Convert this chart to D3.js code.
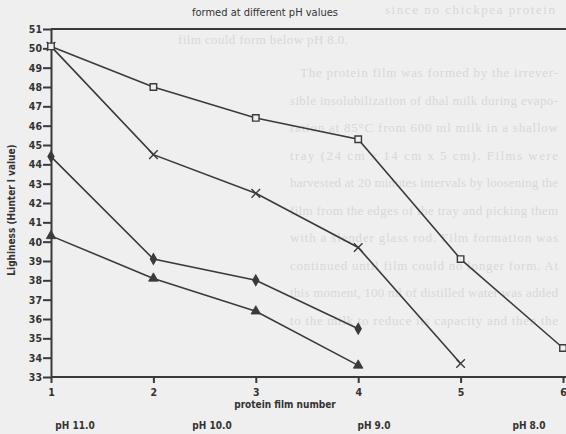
<!doctype html>
<html>
<head>
<meta charset="UTF-8" />
<script src="https://d3js.org/d3.v7.min.js"></script>
<style>
  body { margin: 0; background: #efefef; }
  svg { display: block; }
  .axis path, .axis line { stroke: #3a3a3a; stroke-width: 2; }
  .axis text { font: bold 10.5px "DejaVu Sans Condensed", sans-serif; fill: #333; }
  .lbl { font-family: "DejaVu Sans Condensed", sans-serif; font-weight: bold; fill: #333; }
  .ghost { font: 13px "Liberation Serif", serif; fill: #d8d8d8; }
</style>
</head>
<body>
<svg id="chart" width="566" height="434"></svg>
<script>
// protein film number 1..6
const films = [1, 2, 3, 4, 5, 6];
const yTicks = d3.range(33, 52);

// lightness readings, one list per curve (top to bottom)
const curveA = [50.1, 48.0, 46.4, 45.3, 39.1, 34.5];   // squares
const curveB = [50.1, 44.5, 42.5, 39.7, 33.7];         // crosses
const curveC = [44.4, 39.1, 38.0, 35.5];               // diamonds
const curveD = [40.3, 38.1, 36.4, 33.6];               // triangles

const phLabels = ["pH 11.0", "pH 10.0", "pH 9.0", "pH 8.0"];

// show-through text from the other side of the scanned page
const ghostLines = [
  "since no chickpea protein",
  "film could form below pH 8.0.",
  "The protein film was formed by the irrever-",
  "sible insolubilization of dhal milk during evapo-",
  "ration at 85\u00B0C from 600 ml milk in a shallow",
  "tray (24 cm  x  14 cm  x  5 cm). Films were",
  "harvested at 20 minutes intervals by loosening the",
  "film from the edges of the tray and picking them",
  "with a slender glass rod. Film formation was",
  "continued until film could no longer form. At",
  "this moment, 100 ml of distilled water was added",
  "to the milk to reduce its capacity and then the"
];

const svg = d3.select("#chart");

svg.append("g").selectAll("text")
  .data(ghostLines)
  .join("text")
  .attr("class", "ghost")
  .attr("x", (d, i) => i === 0 ? 385 : (i === 1 ? 178 : (i === 2 ? 300 : 290)))
  .attr("y", (d, i) => i === 0 ? 14 : (i === 1 ? 44 : 77 + (i - 2) * 27.5))
  .attr("textLength", (d, i) => i === 0 ? 170 : (i === 1 ? 170 : (i === 2 ? 258 : 268)))
  .attr("lengthAdjust", "spacing")
  .text(d => d);

const x = d3.scaleLinear().domain([1, 6]).range([51, 563]);
const y = d3.scaleLinear().domain([33, 51]).range([377, 29]);

// top frame line
svg.append("line")
  .attr("x1", x(1)).attr("x2", 566)
  .attr("y1", y(51)).attr("y2", y(51))
  .attr("stroke", "#3a3a3a").attr("stroke-width", 2);

svg.append("g")
  .attr("class", "axis")
  .attr("transform", `translate(${x(1)},0)`)
  .call(d3.axisLeft(y).tickValues(yTicks).tickFormat(d3.format("d"))
    .tickSize(8).tickPadding(1).tickSizeOuter(0));

const xAxis = svg.append("g")
  .attr("class", "axis")
  .attr("transform", `translate(0,${y(33)})`)
  .call(d3.axisBottom(x).tickValues(films).tickFormat(d3.format("d"))
    .tickSize(6).tickPadding(6).tickSizeOuter(0));
xAxis.select(".domain").attr("d", `M${x(1)},0H566`);

const curves = [
  { vals: curveA, sym: "square" },
  { vals: curveB, sym: "x" },
  { vals: curveC, sym: "diamond" },
  { vals: curveD, sym: "triangle" }
];

const line = d3.line().x((d, i) => x(films[i])).y(d => y(d));

svg.append("g").selectAll("path")
  .data(curves)
  .join("path")
  .attr("d", d => line(d.vals))
  .attr("fill", "none")
  .attr("stroke", "#3a3a3a")
  .attr("stroke-width", 1.6);

const symbols = {
  square: d3.symbol(d3.symbolSquare, 42),
  x: d3.symbol(d3.symbolX, 50),
  diamond: d3.symbol(d3.symbolDiamond, 30),
  triangle: d3.symbol(d3.symbolTriangle, 40)
};

// draw cross markers first so the shared first point shows the square
[curves[1], curves[2], curves[3], curves[0]].forEach(c => {
  svg.append("g").selectAll("path")
    .data(c.vals)
    .join("path")
    .attr("transform", (d, i) => `translate(${x(films[i])},${y(d)})`)
    .attr("d", symbols[c.sym])
    .attr("fill", c.sym === "square" ? "#efefef" : (c.sym === "x" ? "none" : "#3a3a3a"))
    .attr("stroke", "#3a3a3a")
    .attr("stroke-width", c.sym === "triangle" ? 0.8 : 1.4);
});

svg.append("text")
  .attr("class", "lbl")
  .attr("x", 265).attr("y", 16)
  .attr("text-anchor", "middle")
  .style("font-size", "11px")
  .style("font-weight", "normal")
  .text("formed at different pH values");

svg.append("text")
  .attr("class", "lbl")
  .attr("transform", "translate(15,210) rotate(-90)")
  .attr("text-anchor", "middle")
  .style("font-size", "10px")
  .text("Lighiness (Hunter l value)");

svg.append("text")
  .attr("class", "lbl")
  .attr("x", 285).attr("y", 408)
  .attr("text-anchor", "middle")
  .style("font-size", "10px")
  .text("protein film number");

svg.append("g").selectAll("text")
  .data(phLabels)
  .join("text")
  .attr("class", "lbl")
  .attr("x", (d, i) => [75, 212, 374, 529][i])
  .attr("y", 429)
  .attr("text-anchor", "middle")
  .style("font-size", "10px")
  .text(d => d);
</script>
</body>
</html>
